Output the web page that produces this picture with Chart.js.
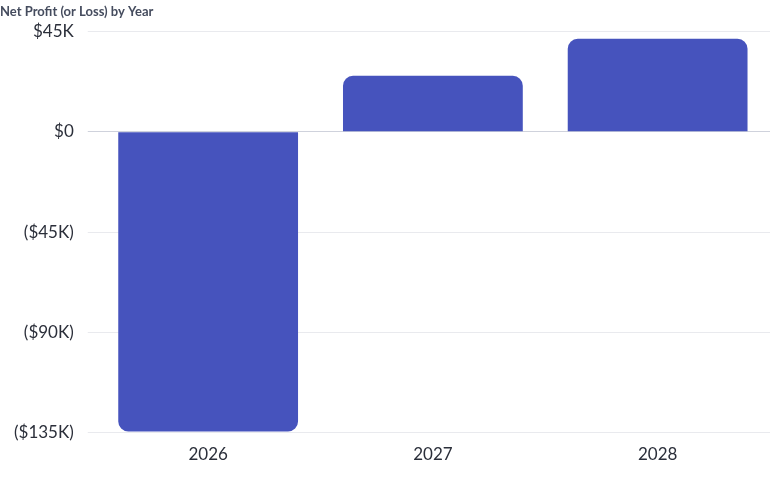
<!DOCTYPE html>
<html><head><meta charset="utf-8">
<script src="https://cdn.jsdelivr.net/npm/chart.js@4"></script>
<style>body{margin:0;background:#fff}#w{width:770px;height:477px;position:relative}</style>
</head><body><div id="w"><canvas id="c"></canvas></div>
<script>
const categories = ["2026", "2027", "2028"];
const netProfit = [-134500, 25200, 41800];
const tickValues = [-135000, -90000, -45000, 0, 45000];
const tickLabels = ["($135K)", "($90K)", "($45K)", "$0", "$45K"];

new Chart(document.getElementById('c'), {
  type: 'bar',
  data: { labels: categories, datasets: [{ data: netProfit, backgroundColor: '#4653bd', borderRadius: 10, borderSkipped: 'start', barPercentage: 0.8, categoryPercentage: 1 }] },
  options: {
    responsive: true, maintainAspectRatio: false, animation: false,
    layout: { padding: { top: 4, right: 0, bottom: 8, left: 0 } },
    plugins: {
      legend: { display: false }, tooltip: { enabled: false },
      title: { display: true, text: 'Net Profit (or Loss) by Year', align: 'start', color: '#454c5e',
        font: { family: 'Lato', size: 13, weight: 'bold' }, padding: { top: 0, bottom: 12 } }
    },
    scales: {
      x: { grid: { display: false }, border: { display: false },
        ticks: { color: '#2b2f3a', font: { family: 'Lato', size: 17 }, padding: 4 } },
      y: { min: -135000, max: 45000,
        afterBuildTicks: s => { s.ticks = tickValues.map(v => ({ value: v })); },
        grid: { color: ctx => ctx.tick && ctx.tick.value === 0 ? '#cfd2dc' : '#e9eaee', lineWidth: 1 },
        border: { display: false },
        ticks: { color: '#2b2f3a', font: { family: 'Lato', size: 17 }, padding: 14,
          callback: (v, i) => tickLabels[tickValues.indexOf(v)] } }
    }
  }
});
</script></body></html>
